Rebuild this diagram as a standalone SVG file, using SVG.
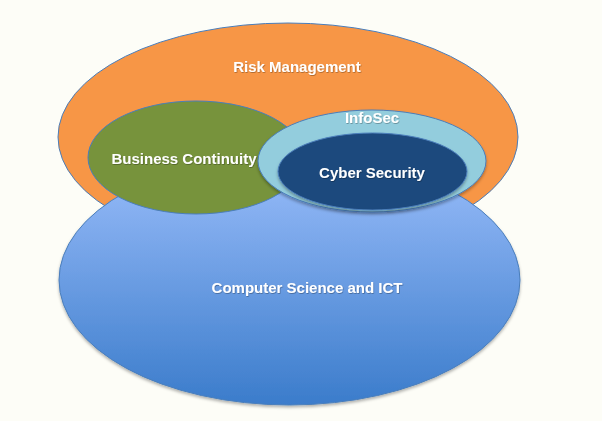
<svg xmlns="http://www.w3.org/2000/svg" width="602" height="421" viewBox="0 0 602 421">
<style>
  .lbl { font-family: "Liberation Sans", Arial, sans-serif; font-weight: bold; font-size: 15px; fill: #ffffff; text-anchor: middle; }
  .edge { stroke: #4A7EBB; stroke-width: 1; }
</style>
<defs>
  <linearGradient id="blueGrad" x1="0" y1="0" x2="0" y2="1">
    <stop offset="0" stop-color="#9BBEFB"/>
    <stop offset="1" stop-color="#3B7CCB"/>
  </linearGradient>
  <filter id="shadow" x="-10%" y="-10%" width="120%" height="130%">
    <feDropShadow dx="0" dy="2" stdDeviation="1.5" flood-color="#000" flood-opacity="0.3"/>
  </filter>
  <filter id="tshadow" x="-5%" y="-20%" width="110%" height="150%">
    <feDropShadow dx="0.6" dy="0.8" stdDeviation="0.5" flood-color="#000" flood-opacity="0.35"/>
  </filter>
</defs>
<rect width="602" height="421" fill="#FDFDF7"/>
<g id="risk-management">
  <ellipse cx="288" cy="137" rx="230" ry="114" fill="#F79646" class="edge"/>
  <text x="297" y="72" class="lbl" filter="url(#tshadow)">Risk Management</text>
</g>
<g id="computer-science">
  <ellipse cx="289.5" cy="280" rx="230.5" ry="125" fill="url(#blueGrad)" class="edge" filter="url(#shadow)"/>
  <text x="307" y="293" class="lbl" filter="url(#tshadow)">Computer Science and ICT</text>
</g>
<g id="business-continuity">
  <ellipse cx="196" cy="157.5" rx="108" ry="56.5" fill="#77933C" class="edge"/>
  <text x="184" y="164" class="lbl" filter="url(#tshadow)">Business Continuity</text>
</g>
<g id="infosec">
  <ellipse cx="372" cy="161" rx="114" ry="51" fill="#93CDDD" class="edge" filter="url(#shadow)"/>
  <text x="372" y="123" class="lbl" filter="url(#tshadow)">InfoSec</text>
</g>
<g id="cyber-security">
  <ellipse cx="372.5" cy="171.5" rx="94.5" ry="38.5" fill="#1F497D" class="edge" filter="url(#shadow)"/>
  <text x="372" y="178" class="lbl" filter="url(#tshadow)">Cyber Security</text>
</g>
<g id="connectors"></g>
</svg>
